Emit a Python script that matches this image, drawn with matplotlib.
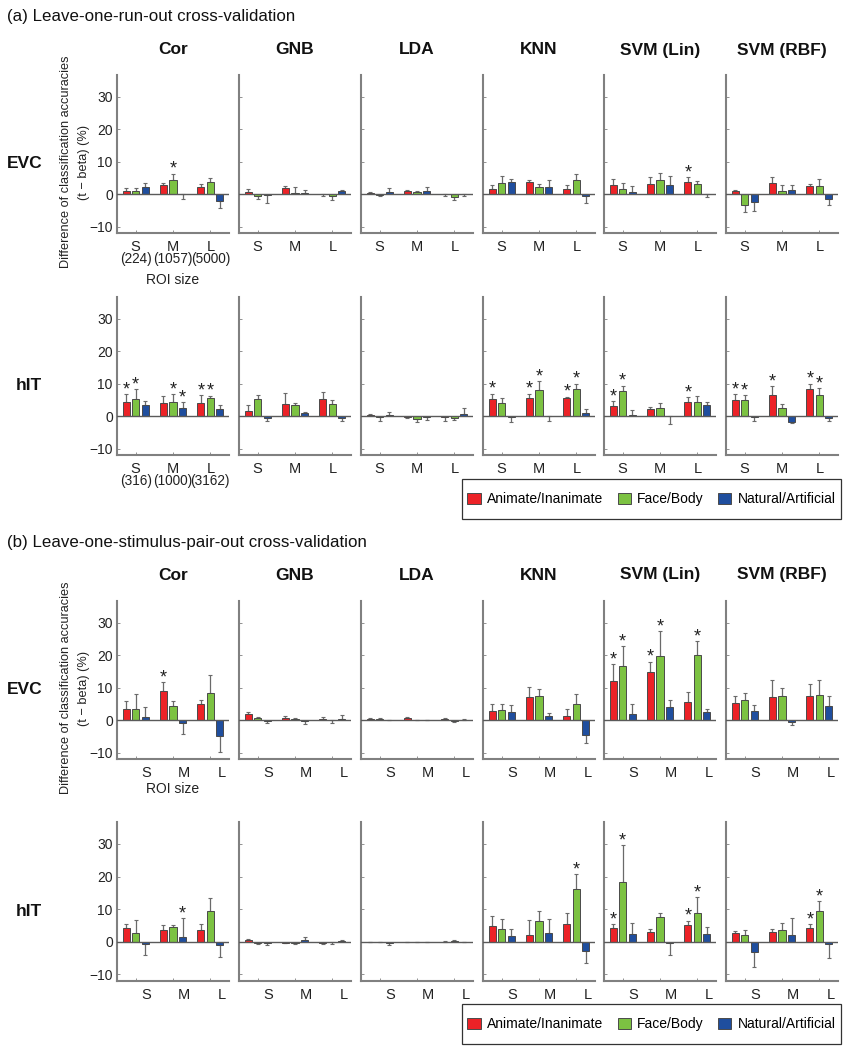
import numpy as np
import matplotlib
matplotlib.use('Agg')
import matplotlib.pyplot as plt
from matplotlib.patches import Patch, Rectangle
from matplotlib.transforms import ScaledTranslation

plt.rcParams['font.family'] = ['Liberation Sans', 'DejaVu Sans']

classifiers = ['Cor', 'GNB', 'LDA', 'KNN', 'SVM (Lin)', 'SVM (RBF)']
roi_sizes = ['S', 'M', 'L']
contrasts = ['Animate/Inanimate', 'Face/Body', 'Natural/Artificial']
colors = ['#ec2227', '#7cc242', '#1f4e9e']

run_evc_voxels = ['(224)', '(1057)', '(5000)']
run_hit_voxels = ['(316)', '(1000)', '(3162)']

# each row: one classifier, values ordered S(r,g,b) M(r,g,b) L(r,g,b)
run_evc_mean = [
    [1.0, 1.0, 2.3, 2.8, 4.2, -0.1, 2.3, 3.8, -2.2],
    [0.6, -0.7, -0.3, 1.8, 0.3, 0.4, -0.1, -0.7, 1.0],
    [0.3, -0.3, 0.7, 0.9, 0.7, 0.8, -0.1, -1.0, -0.1],
    [1.6, 3.5, 3.8, 3.7, 2.1, 2.1, 1.6, 4.4, -0.7],
    [2.8, 1.6, 0.6, 3.1, 4.4, 2.8, 3.7, 3.1, -0.1],
    [1.0, -3.5, -2.5, 3.5, 1.0, 1.3, 2.4, 2.4, -1.4],
]
run_evc_err = [
    [1.0, 0.9, 1.2, 0.6, 2.1, 1.5, 0.8, 1.1, 2.1],
    [1.1, 0.8, 2.6, 0.7, 1.9, 0.7, 0.5, 1.1, 0.3],
    [0.2, 0.2, 1.2, 0.4, 0.3, 1.4, 0.5, 0.7, 0.4],
    [1.1, 2.0, 0.8, 0.5, 1.0, 2.3, 1.2, 1.8, 2.1],
    [1.9, 1.8, 1.8, 2.1, 2.1, 2.8, 1.5, 1.0, 0.9],
    [0.2, 2.1, 2.7, 1.8, 1.7, 1.4, 0.7, 2.2, 2.1],
]
run_evc_sig = [
    [0, 0, 0, 0, 1, 0, 0, 0, 0],
    [0, 0, 0, 0, 0, 0, 0, 0, 0],
    [0, 0, 0, 0, 0, 0, 0, 0, 0],
    [0, 0, 0, 0, 0, 0, 0, 0, 0],
    [0, 0, 0, 0, 0, 0, 1, 0, 0],
    [0, 0, 0, 0, 0, 0, 0, 0, 0],
]

run_hit_mean = [
    [4.4, 5.2, 3.4, 4.0, 4.4, 2.5, 4.0, 5.5, 2.1],
    [1.6, 5.2, -0.6, 3.8, 3.4, 1.0, 5.2, 3.8, -0.5],
    [0.3, -0.4, 0.3, -0.4, -1.0, -0.4, -0.4, -0.7, 0.7],
    [5.3, 4.0, -0.4, 5.6, 8.0, -0.05, 5.6, 8.4, 1.0],
    [3.1, 7.6, 0.3, 2.1, 2.5, -0.05, 4.4, 4.4, 3.4],
    [4.8, 4.8, -0.4, 6.6, 2.5, -1.9, 8.4, 6.6, -0.7],
]
run_hit_err = [
    [2.4, 3.0, 1.3, 2.2, 2.3, 1.8, 2.4, 0.8, 1.3],
    [1.8, 1.3, 0.8, 3.2, 0.7, 0.1, 2.3, 1.0, 1.0],
    [0.2, 1.0, 1.0, 0.2, 0.8, 0.7, 1.0, 0.6, 1.8],
    [1.6, 1.5, 1.5, 1.3, 2.8, 1.5, 0.4, 1.6, 1.2],
    [1.5, 1.8, 1.5, 0.6, 1.4, 2.3, 1.4, 1.8, 1.0],
    [1.9, 1.7, 1.0, 2.6, 1.3, 0.2, 1.6, 2.0, 0.7],
]
run_hit_sig = [
    [1, 1, 0, 0, 1, 1, 1, 1, 0],
    [0, 0, 0, 0, 0, 0, 0, 0, 0],
    [0, 0, 0, 0, 0, 0, 0, 0, 0],
    [1, 0, 0, 1, 1, 0, 1, 1, 0],
    [1, 1, 0, 0, 0, 0, 1, 0, 0],
    [1, 1, 0, 1, 0, 0, 1, 1, 0],
]

pair_evc_mean = [
    [3.5, 3.5, 1.0, 9.1, 4.2, -1.0, 4.8, 8.4, -4.8],
    [1.9, 0.7, -0.3, 0.7, 0.4, -0.3, 0.4, -0.05, 0.4],
    [0.4, 0.4, 0.05, 0.7, 0.05, 0.05, 0.4, -0.2, 0.1],
    [2.9, 3.2, 2.5, 7.0, 7.4, 1.4, 1.4, 4.8, -4.5],
    [11.9, 16.7, 1.9, 14.9, 19.8, 3.9, 5.6, 20.1, 2.5],
    [5.3, 6.3, 2.8, 7.0, 7.4, -0.6, 7.4, 7.7, 4.2],
]
pair_evc_err = [
    [2.5, 4.5, 2.9, 2.7, 1.8, 3.4, 1.5, 5.5, 5.0],
    [0.5, 0.2, 0.7, 0.6, 0.3, 0.8, 0.6, 0.8, 1.1],
    [0.2, 0.2, 0.1, 0.2, 0.1, 0.1, 0.3, 0.3, 0.1],
    [2.0, 1.9, 2.1, 3.2, 2.1, 0.8, 1.9, 3.2, 2.6],
    [5.3, 6.2, 2.9, 3.1, 7.6, 2.4, 3.2, 4.3, 0.8],
    [2.0, 2.1, 1.7, 5.3, 2.4, 0.9, 3.7, 4.6, 3.2],
]
pair_evc_sig = [
    [0, 0, 0, 1, 0, 0, 0, 0, 0],
    [0, 0, 0, 0, 0, 0, 0, 0, 0],
    [0, 0, 0, 0, 0, 0, 0, 0, 0],
    [0, 0, 0, 0, 0, 0, 0, 0, 0],
    [1, 1, 0, 1, 1, 0, 0, 1, 0],
    [0, 0, 0, 0, 0, 0, 0, 0, 0],
]

pair_hit_mean = [
    [4.1, 2.8, -0.7, 3.5, 4.5, 1.4, 3.5, 9.4, -1.0],
    [0.7, -0.4, -0.4, -0.4, -0.4, 0.7, -0.4, -0.05, 0.4],
    [-0.1, -0.1, -0.4, 0.02, 0.02, 0.02, 0.05, 0.3, 0.02],
    [4.9, 3.8, 1.9, 2.1, 6.3, 2.8, 5.6, 16.3, -2.8],
    [4.1, 18.4, 2.5, 3.1, 7.6, -0.3, 5.2, 8.7, 2.5],
    [2.8, 2.1, -3.2, 3.1, 3.5, 2.1, 4.1, 9.4, -0.6],
]
pair_hit_err = [
    [1.5, 3.8, 3.4, 1.8, 0.8, 5.9, 2.1, 4.1, 3.5],
    [0.2, 0.2, 0.5, 0.1, 0.2, 0.7, 0.2, 0.6, 0.3],
    [0.1, 0.1, 0.5, 0.05, 0.05, 0.05, 0.05, 0.2, 0.05],
    [3.1, 3.1, 1.9, 4.5, 3.1, 4.1, 3.2, 4.4, 3.7],
    [1.4, 11.3, 3.4, 0.7, 1.1, 3.8, 1.3, 4.9, 2.0],
    [0.6, 1.4, 4.5, 0.7, 2.4, 5.2, 1.3, 3.0, 4.3],
]
pair_hit_sig = [
    [0, 0, 0, 0, 0, 1, 0, 0, 0],
    [0, 0, 0, 0, 0, 0, 0, 0, 0],
    [0, 0, 0, 0, 0, 0, 0, 0, 0],
    [0, 0, 0, 0, 0, 0, 0, 1, 0],
    [1, 1, 0, 0, 0, 0, 1, 1, 0],
    [0, 0, 0, 0, 0, 0, 1, 1, 0],
]

W, H = 851, 1050
fig = plt.figure(figsize=(W / 100, H / 100), dpi=100)

panel_left = [117, 239, 361, 483, 604, 726]
panel_w = 112
# (top, bottom) in pixels for each row of panels
row_px = [(75, 233), (297, 455), (601, 759), (822, 981)]


def add_ax(left, top, bottom):
    return fig.add_axes([left / W, 1 - bottom / H, panel_w / W, (bottom - top) / H])


def draw_panel(ax, mean, err, sig, first_col, label_shift, voxels=None):
    mean = np.array(mean).reshape(3, 3)
    err = np.array(err).reshape(3, 3)
    sig = np.array(sig).reshape(3, 3)
    groups = np.arange(1, 4)
    offsets = [-0.255, 0.0, 0.255]
    for k in range(3):
        x = groups + offsets[k]
        m = mean[:, k]
        lower = np.where(m < 0, err[:, k], 0)
        upper = np.where(m >= 0, err[:, k], 0)
        ax.errorbar(x, m, yerr=[lower, upper], fmt='none', ecolor='#6a6a6a',
                    elinewidth=0.9, capsize=1.3, capthick=0.8, zorder=2)
        ax.bar(x, m, 0.19, color=colors[k], edgecolor='#4a4a4a', linewidth=0.7, zorder=3)
        for j in range(3):
            if sig[j, k]:
                ax.text(x[j], m[j] + upper[j] + 1.3, '*', ha='center', va='center',
                        fontsize=13, color='#222222')
    ax.axhline(0, color='#5a5a5a', lw=1.0, zorder=4)
    ax.set_xlim(0.5, 3.5)
    ax.set_ylim(-12, 36.7)
    ax.set_yticks([-10, 0, 10, 20, 30])
    ax.set_xticks(groups)
    ax.set_xticklabels(roi_sizes)
    if voxels is not None:
        for g, v in zip(groups, voxels):
            ax.annotate(v, xy=(g, 0), xycoords=('data', 'axes fraction'),
                        xytext=(0, -26), textcoords='offset pixels',
                        ha='center', va='center', fontsize=9.8, color='#222222')
    if not first_col:
        ax.set_yticklabels([])
    for s in ['top', 'right']:
        ax.spines[s].set_visible(False)
    for s in ['left', 'bottom']:
        ax.spines[s].set_color('#808080')
        ax.spines[s].set_linewidth(1.5)
    ax.tick_params(axis='both', direction='in', length=2.5, width=0.6, color='#808080',
                   labelsize=10.5, labelcolor='#222222', pad=5)
    ax.tick_params(axis='y', labelsize=10, pad=3)
    if label_shift:
        shift = ScaledTranslation(label_shift / 100, 0, fig.dpi_scale_trans)
        for lab in ax.get_xticklabels():
            lab.set_transform(lab.get_transform() + shift)


rows = [
    (run_evc_mean, run_evc_err, run_evc_sig, 'EVC', 0, run_evc_voxels),
    (run_hit_mean, run_hit_err, run_hit_sig, 'hIT', 0, run_hit_voxels),
    (pair_evc_mean, pair_evc_err, pair_evc_sig, 'EVC', 11, None),
    (pair_hit_mean, pair_hit_err, pair_hit_sig, 'hIT', 11, None),
]

for r, (means, errs, sigs, region, shift, voxels) in enumerate(rows):
    top, bottom = row_px[r]
    for c in range(6):
        ax = add_ax(panel_left[c], top, bottom)
        draw_panel(ax, means[c], errs[c], sigs[c], c == 0, shift,
                   voxels if c == 0 else None)
    mid = (top + bottom) / 2
    fig.text(42 / W, 1 - (mid + 10) / H, region, ha='right', va='center',
             fontsize=12.5, fontweight='bold', color='#111111')

# column titles
for ytitle in [50, 575]:
    for c, name in enumerate(classifiers):
        fig.text((panel_left[c] + panel_w / 2) / W, 1 - ytitle / H, name, ha='center',
                 va='center', fontsize=12.5, fontweight='bold', color='#111111')

# section titles
fig.text(7 / W, 1 - 16 / H, '(a) Leave-one-run-out cross-validation', ha='left',
         va='center', fontsize=12.2, color='#111111')
fig.text(7 / W, 1 - 543 / H, '(b) Leave-one-stimulus-pair-out cross-validation',
         ha='left', va='center', fontsize=12.2, color='#111111')

# y labels and ROI size labels
ylab = 'Difference of classification accuracies\n(t \u2212 beta) (%)'
for yc in [162, 688]:
    fig.text(75 / W, 1 - yc / H, ylab, rotation=90, ha='center', va='center',
             fontsize=9.2, color='#222222', multialignment='center', linespacing=1.6)
fig.text(173 / W, 1 - 280 / H, 'ROI size', ha='center', va='center', fontsize=10, color='#222222')
fig.text(173 / W, 1 - 789 / H, 'ROI size', ha='center', va='center', fontsize=10, color='#222222')

# legends: frame drawn as a rectangle, entries centred inside it
handles = [Patch(facecolor=col, edgecolor='#4a4a4a', linewidth=0.7) for col in colors]
for ytop in [479, 1004]:
    fig.patches.append(Rectangle((462 / W, 1 - (ytop + 40) / H), 379 / W, 40 / H,
                                 transform=fig.transFigure, fill=False,
                                 edgecolor='#333333', linewidth=0.9))
    fig.legend(handles, contrasts, loc='center', ncol=3,
               bbox_to_anchor=(651.5 / W, 1 - (ytop + 20) / H),
               frameon=False, fontsize=10, handlelength=0.95, handleheight=0.85,
               handletextpad=0.45, columnspacing=1.05, borderpad=0, borderaxespad=0)

fig.savefig('out.png', dpi=100)
